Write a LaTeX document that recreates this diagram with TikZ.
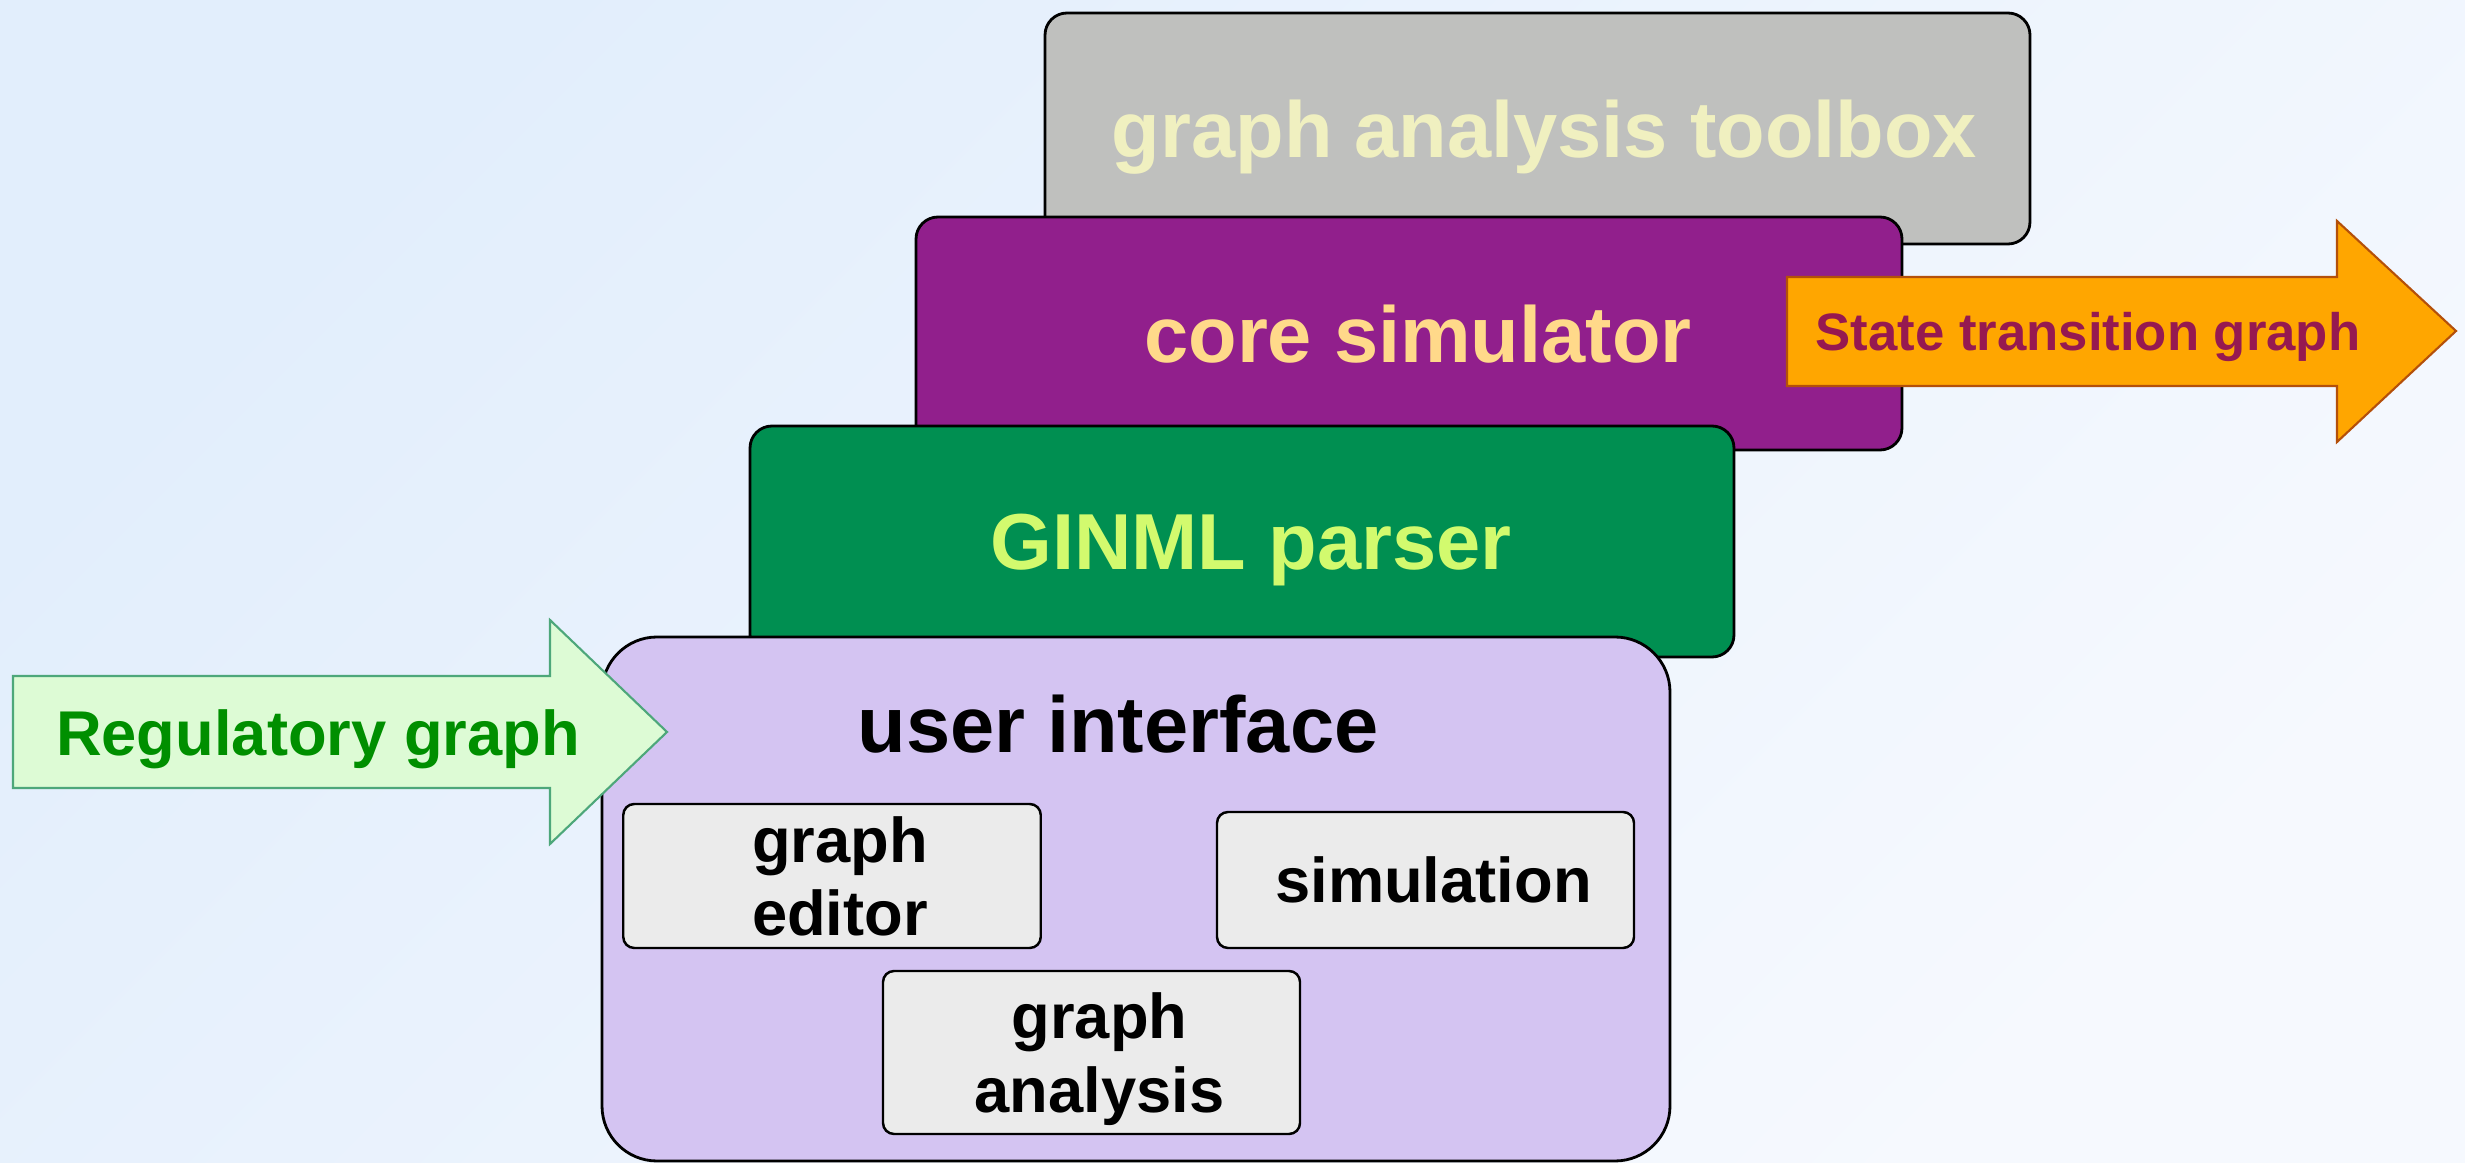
\documentclass[tikz,border=0pt]{standalone}
\usepackage{fontspec}
\setmainfont{Liberation Sans}
\definecolor{bgA}{RGB}{226,238,252}
\definecolor{bgB}{RGB}{246,249,254}
\definecolor{toolgray}{RGB}{191,192,190}
\definecolor{toolfont}{RGB}{240,240,192}
\definecolor{coreviolet}{RGB}{145,31,140}
\definecolor{corefont}{RGB}{255,217,138}
\definecolor{parsergreen}{RGB}{0,143,81}
\definecolor{parserfont}{RGB}{210,250,110}
\definecolor{uililac}{RGB}{212,196,242}
\definecolor{partgray}{RGB}{235,235,235}
\definecolor{regfill}{RGB}{221,251,213}
\definecolor{regline}{RGB}{77,167,122}
\definecolor{regfont}{RGB}{0,143,0}
\definecolor{stgfill}{RGB}{255,166,0}
\definecolor{stgline}{RGB}{180,80,10}
\definecolor{stgfont}{RGB}{150,25,80}

\begin{document}
\begin{tikzpicture}[x=0.1mm,y=-0.1mm]
	\tikzset{layer/.style={draw=black,line width=0.8pt,rounded corners=2.2mm},
		part/.style={draw=black,line width=0.7pt,fill=partgray,rounded corners=1.1mm},
		txt/.style={align=center,text depth=0pt,font=\fontsize{#1}{21}\selectfont\bfseries}}
	\useasboundingbox (0,0) rectangle (2465,1163);
	\shade[top color=bgA,bottom color=bgB,shading angle=45] (0,0) rectangle (2465,1163);
	% stacked layers, back to front
	\node[layer,fill=toolgray,minimum width=98.5mm,minimum height=23.1mm] (toolbox) at (1537.5,128.5) {};
	\node[txt=22.6,text=toolfont] (toolboxtxt) at ([xshift=0.7mm]toolbox.center) {graph analysis toolbox};
	\node[layer,fill=coreviolet,minimum width=98.6mm,minimum height=23.3mm] (core) at (1409,333.5) {};
	\node[txt=22.6,text=corefont] (coretxt) at ([xshift=0.9mm]core.center) {core simulator};
	\node[layer,fill=parsergreen,minimum width=98.4mm,minimum height=23.1mm] (parser) at (1242,541.5) {};
	\node[txt=22.6,text=parserfont] (parsertxt) at ([xshift=0.9mm]parser.center) {GINML parser};
	\node[layer,fill=uililac,rounded corners=5.5mm,minimum width=106.8mm,minimum height=52.4mm] (ui) at (1136,899) {};
	\node[txt=22.6] (uitxt) at (1118,724) {user interface};
	\node[part,minimum width=41.75mm,minimum height=14.4mm] (editor) at (832,876) {};
	\node[txt=18] (editortxt) at ([xshift=0.8mm]editor.center) {graph\\editor};
	\node[part,minimum width=41.7mm,minimum height=13.6mm] (simulation) at (1425.5,880) {};
	\node[txt=18] (simulationtxt) at ([xshift=0.8mm]simulation.center) {simulation};
	\node[part,minimum width=41.7mm,minimum height=16.3mm] (analysis) at (1091.5,1052.5) {};
	\node[txt=18] (analysistxt) at ([xshift=0.8mm]analysis.center) {graph\\analysis};
	% input and output arrows
	\draw[regline,fill=regfill,line width=0.6pt] (13,676) -- (550,676) -- (550,620) -- (667,732) -- (550,844) -- (550,788) -- (13,788) -- cycle;
	\node[txt=18,text=regfont] (regtxt) at (318,733) {Regulatory graph};
	\draw[stgline,fill=stgfill,line width=0.6pt] (1787,277) -- (2337,277) -- (2337,221) -- (2456,331) -- (2337,442) -- (2337,386) -- (1787,386) -- cycle;
	\node[txt=15,text=stgfont] (stgtxt) at (2088,331) {State transition graph};
\end{tikzpicture}
\end{document}
